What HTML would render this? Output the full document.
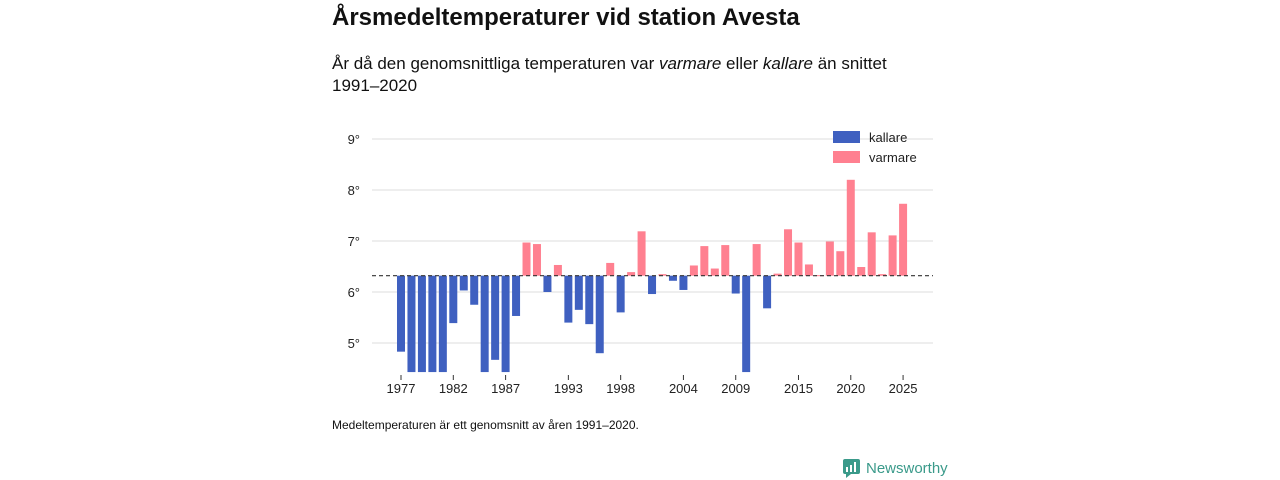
<!DOCTYPE html>
<html><head><meta charset="utf-8">
<style>
body{margin:0;width:1280px;height:480px;background:#fff;font-family:"Liberation Sans",sans-serif;color:#111;position:relative;overflow:hidden}
.t{position:absolute;white-space:nowrap}
</style></head><body>
<div class="t" style="left:332px;top:4px;font-size:24px;font-weight:bold">Årsmedeltemperaturer vid station Avesta</div>
<div class="t" style="left:332px;top:53px;font-size:17px;line-height:22px">År då den genomsnittliga temperaturen var <i>varmare</i> eller <i>kallare</i> än snittet<br>1991–2020</div>
<svg id="chart" width="1280" height="480" style="position:absolute;left:0;top:0" font-family="Liberation Sans, sans-serif"></svg>
<div class="t" style="left:332px;top:418px;font-size:12px">Medeltemperaturen är ett genomsnitt av åren 1991–2020.</div>
<div class="t" style="left:843px;top:459px;font-size:15px;color:#3a9a8a;display:flex;align-items:center;gap:6px">
<svg width="17" height="19"><rect x="0" y="0" width="17" height="15" rx="2" fill="#3a9a8a"/><polygon points="3,15 8,15 3,19" fill="#3a9a8a"/><rect x="3" y="8" width="2" height="5" fill="#fff"/><rect x="7" y="6" width="2" height="7" fill="#fff"/><rect x="11" y="3" width="2" height="10" fill="#fff"/></svg>Newsworthy</div>
<script>
const years=[1977,1978,1979,1980,1981,1982,1983,1984,1985,1986,1987,1988,1989,1990,1991,1992,1993,1994,1995,1996,1997,1998,1999,2000,2001,2002,2003,2004,2005,2006,2007,2008,2009,2010,2011,2012,2013,2014,2015,2016,2017,2018,2019,2020,2021,2022,2023,2024,2025];
const temps=[4.83,4.3,4.3,4.3,4.3,5.39,6.03,5.75,4.3,4.67,4.4,5.53,6.97,6.94,6.0,6.53,5.40,5.65,5.37,4.80,6.57,5.60,6.39,7.19,5.96,6.35,6.22,6.04,6.52,6.90,6.46,6.92,5.97,4.3,6.94,5.68,6.36,7.23,6.97,6.54,6.33,6.99,6.80,8.20,6.49,7.17,6.35,7.11,7.73];
const yTicks=[5,6,7,8,9];
const xTicks=[1977,1982,1987,1993,1998,2004,2009,2015,2020,2025];
const avg=6.32;
const NS="http://www.w3.org/2000/svg";
const svg=document.getElementById('chart');
const x=y=>401+(y-1977)*10.46;
const yv=v=>292-(v-6)*51;
const yMin=4.43;
function mk(t,a){const e=document.createElementNS(NS,t);for(const k in a)e.setAttribute(k,a[k]);svg.appendChild(e);return e;}
yTicks.forEach(v=>{
 const g=mk('line',{x1:372,x2:933,y1:yv(v),y2:yv(v),stroke:'#dcdcdc','stroke-width':1});
 
 
 const t=mk('text',{x:360,y:yv(v)+5,'text-anchor':'end','font-size':13,fill:'#222'});t.textContent=v+'°';
 
 
});
years.forEach((yr,i)=>{
 const v=Math.max(temps[i],yMin);
 const top=Math.min(yv(v),yv(avg)), h=Math.abs(yv(v)-yv(avg));
 const r=mk('rect',{x:x(yr)-4,y:top,width:8,height:Math.max(h,1),fill:temps[i]>=avg?'#ff8090':'#3f60c0'});
 
 
});
const al=mk('line',{x1:372,x2:933,y1:yv(avg),y2:yv(avg),stroke:'#333','stroke-width':1.2,'stroke-dasharray':'4,3'});


xTicks.forEach(yr=>{
 const l=mk('line',{x1:x(yr),x2:x(yr),y1:375,y2:380,stroke:'#333'});
 
 
 const t=mk('text',{x:x(yr),y:393,'text-anchor':'middle','font-size':13,fill:'#222'});t.textContent=yr;
 
 
});
[['kallare','#3f60c0',131],['varmare','#ff8090',151]].forEach(([n,c,yy])=>{
 const r=mk('rect',{x:833,y:yy,width:27,height:12,fill:c});
 
 
 const t=mk('text',{x:869,y:yy+11,'font-size':13,fill:'#222'});t.textContent=n;
 
 
});
</script>
</body></html>
